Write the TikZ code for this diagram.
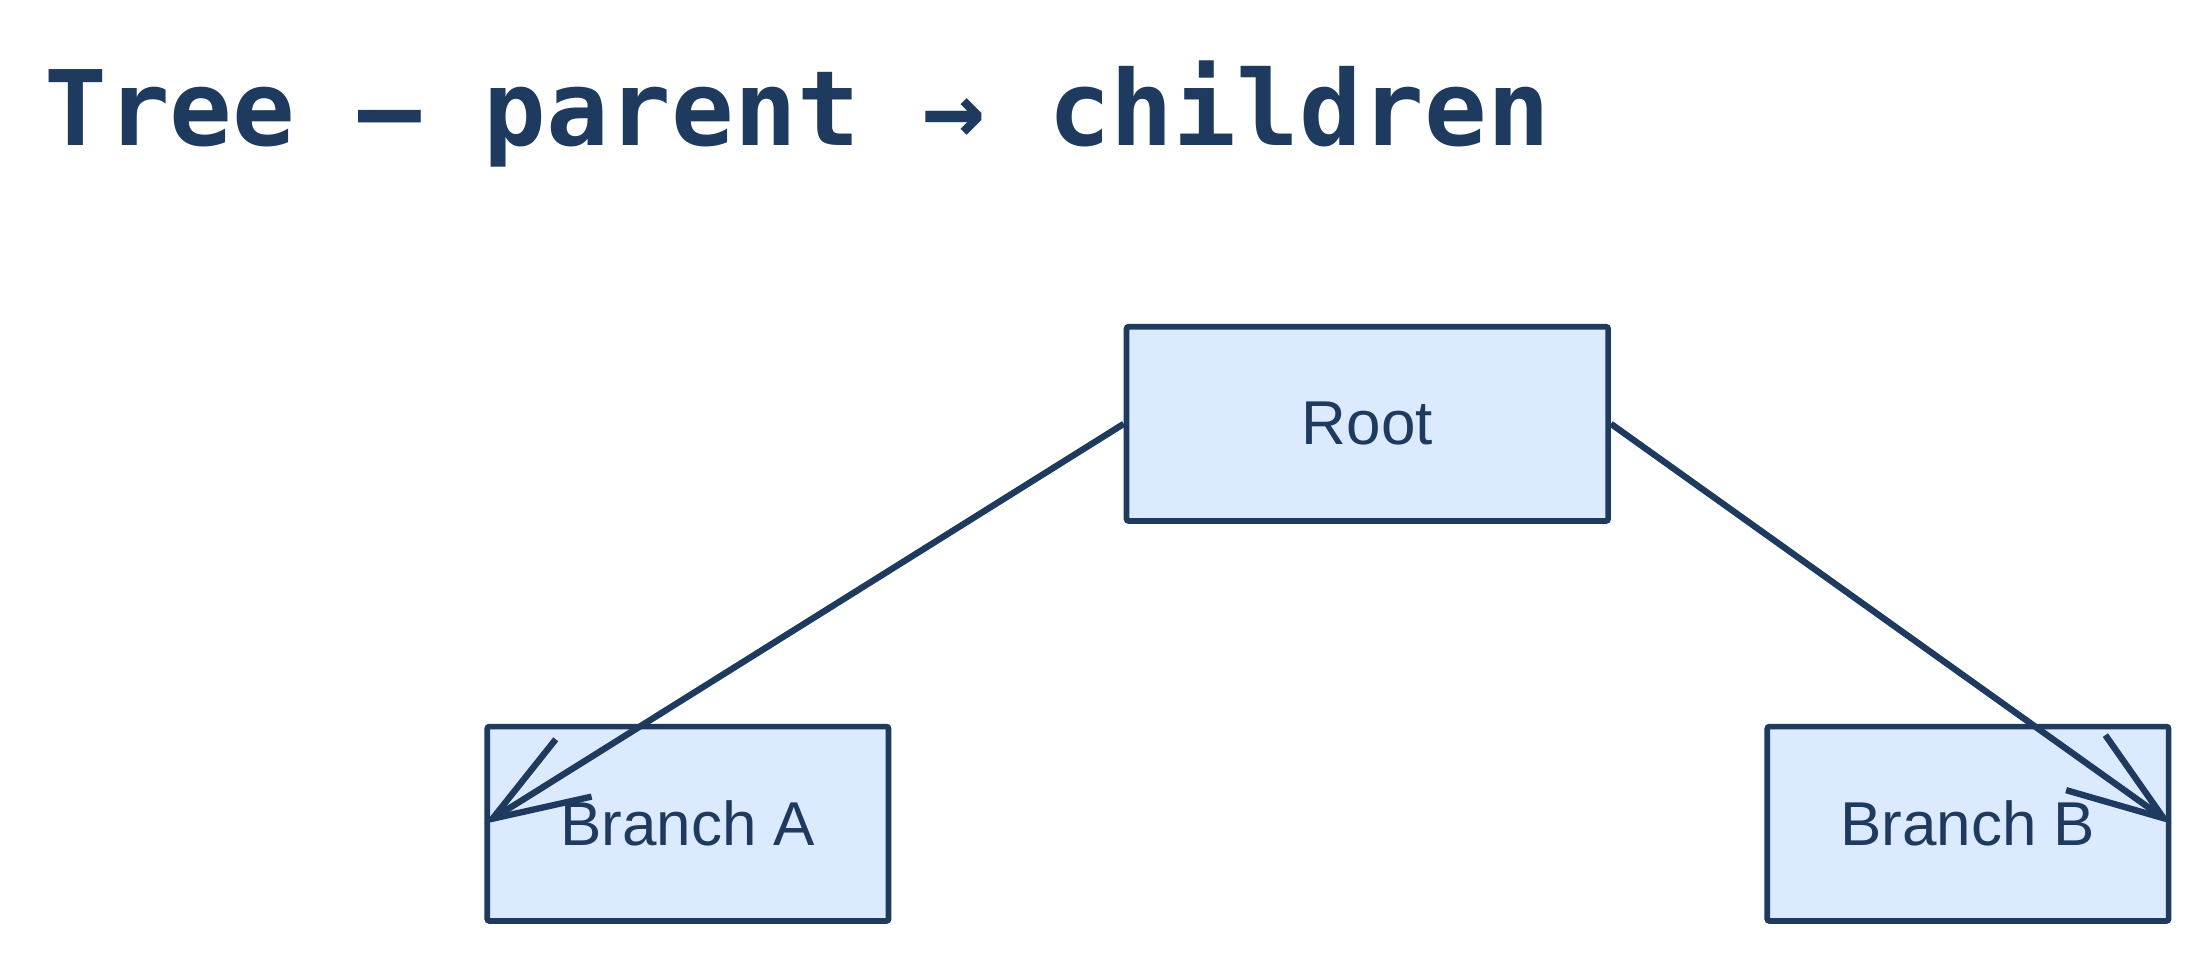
\documentclass[tikz,border=0pt]{standalone}
\usepackage{fontspec}
\setmonofont{DejaVu Sans Mono}
\setsansfont{Liberation Sans}
\usetikzlibrary{arrows.meta}
\definecolor{navy}{HTML}{1E3A5F}
\definecolor{boxfill}{HTML}{DBEAFE}
\begin{document}
\begin{tikzpicture}[x=1pt,y=-1pt,
  box/.style={draw=navy,fill=boxfill,line width=4pt,rounded corners=1.5pt,inner sep=0pt,
    font=\sffamily\fontsize{44}{50}\selectfont,text=navy},
  conn/.style={draw=navy,line width=4.5pt,-{Straight Barb[length=68pt,width=48pt,line width=4.5pt]}}]
\useasboundingbox (0,0) rectangle (1568,683);
\fill[white] (0,0) rectangle (1568,683);
\node[anchor=base west,text=navy,font=\ttfamily\bfseries\fontsize{74}{80}\selectfont] (title) at (28,103) {Tree — parent → children};
\node[box,minimum width=342pt,minimum height=138pt] (root) at (971,301) {Root};
\node[box,minimum width=285pt,minimum height=138pt] (a) at (488.5,585) {Branch A};
\node[box,minimum width=285pt,minimum height=138pt] (b) at (1397.5,585) {Branch B};
\draw[conn] (root.west) -- (a.west);
\draw[conn] (root.east) -- (b.east);
\end{tikzpicture}
\end{document}
